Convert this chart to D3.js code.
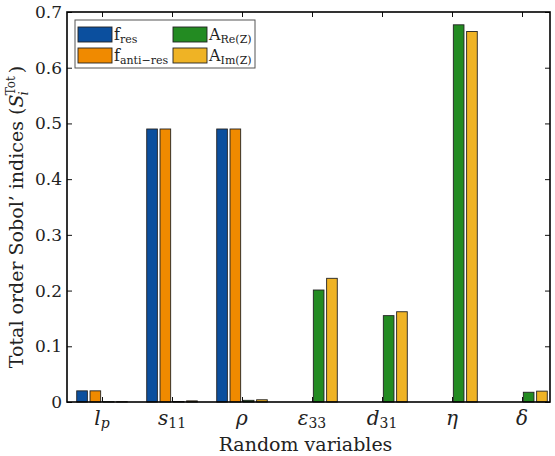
<!DOCTYPE html>
<html><head><meta charset="utf-8">
<script src="https://cdn.jsdelivr.net/npm/d3@7"></script>
<style>body{margin:0;background:#fff} svg{display:block}</style>
</head><body>
<svg id="c" width="555" height="456"></svg>
<script>
const FONT = "DejaVu Serif";
// ---- data ----
const categories = ["lp","s11","rho","eps33","d31","eta","delta"];
const fRes  = [0.020, 0.490, 0.490, 0, 0, 0, 0];
const fAnti = [0.020, 0.490, 0.490, 0, 0, 0, 0];
const aRe   = [0.0005, 0.001, 0.003, 0.201, 0.155, 0.677, 0.0175];
const aIm   = [0.0005, 0.002, 0.004, 0.222, 0.162, 0.665, 0.0195];
const yTicks = [0, 0.1, 0.2, 0.3, 0.4, 0.5, 0.6, 0.7];
const yTickLabels = ["0","0.1","0.2","0.3","0.4","0.5","0.6","0.7"];
const seriesKeys = ["fres","fanti","are","aim"];
const seriesColors = ["#0b4f9e","#f08a00","#238b22","#efb325"];

const seriesVals = [fRes, fAnti, aRe, aIm];

const catLabels = {
  lp:["l","p"], s11:["s","11"], rho:["ρ",""], eps33:["ε","33"],
  d31:["d","31"], eta:["η",""], delta:["δ",""]
};

const svg = d3.select("#c").attr("font-family", FONT).attr("fill", "#222");
const L=67, R=550, T=12, B=402;
const x = d3.scaleLinear().domain([0.5, 7.4]).range([L, R]);
const y = d3.scaleLinear().domain([0, 0.7]).range([B, T]);
const sub = d3.scaleBand().domain(seriesKeys).range([-0.38, 0.38]).paddingInner(0.2).paddingOuter(0.1);
const bwPx = x(sub.bandwidth()) - x(0);

seriesKeys.forEach((k, si) => {
  svg.append("g").selectAll("rect").data(seriesVals[si]).join("rect")
    .attr("x", (d, i) => x(i + 1 + sub(k)))
    .attr("width", bwPx)
    .attr("y", d => y(d))
    .attr("height", d => Math.max(0, y(0) - y(d)))
    .attr("fill", seriesColors[si])
    .attr("stroke", d => d > 0 ? "#222" : "none")
    .attr("stroke-width", 0.9);
});

const catPos = categories.map((c, i) => i + 1);
svg.append("g").attr("transform", `translate(0,${B})`)
  .call(d3.axisBottom(x).tickValues(catPos).tickSize(-5).tickFormat(""));
svg.append("g").attr("transform", `translate(0,${T})`)
  .call(d3.axisTop(x).tickValues(catPos).tickSize(-5).tickFormat(""));
const yl = svg.append("g").attr("transform", `translate(${L},0)`)
  .call(d3.axisLeft(y).tickValues(yTicks).tickSize(-5).tickPadding(5)
    .tickFormat((d, i) => yTickLabels[i]));
svg.append("g").attr("transform", `translate(${R},0)`)
  .call(d3.axisRight(y).tickValues(yTicks).tickSize(-5).tickFormat(""));
svg.selectAll(".domain").remove();
svg.selectAll("g").attr("font-family", FONT);
svg.selectAll(".tick line").attr("stroke", "#111").attr("stroke-width", 1);
yl.selectAll("text").attr("font-size", 17).attr("fill","#222");

svg.append("rect").attr("x", L).attr("y", T).attr("width", R - L).attr("height", B - T)
  .attr("fill", "none").attr("stroke", "#000").attr("stroke-width", 1.6);

categories.forEach((c, i) => {
  const t = svg.append("text").attr("x", x(i + 1)).attr("y", 425)
    .attr("text-anchor", "middle").attr("font-size", 20).attr("font-family", FONT);
  const [m, s] = catLabels[c];
  t.append("tspan").text(m).attr("font-style", "italic");
  if (s) t.append("tspan").text(s).attr("dy", 3).attr("font-size", 14)
    .attr("font-style", c === "lp" ? "italic" : "normal");
});

svg.append("text").attr("x", (L + R) / 2 - 3).attr("y", 451).attr("text-anchor", "middle")
  .attr("font-size", 19).attr("font-family", FONT).text("Random variables");

const ylab = svg.append("text").attr("transform", `translate(23,${(T + B) / 2 + 10}) rotate(-90)`)
  .attr("text-anchor", "middle").attr("font-size", 19).attr("font-family", FONT);
ylab.append("tspan").text("Total order Sobol’ indices (");
ylab.append("tspan").text("S").attr("font-style", "italic");
ylab.append("tspan").text("i").attr("font-style", "italic").attr("font-size", 13).attr("dy", 5).attr("dx", -1);
ylab.append("tspan").text("Tot").attr("font-size", 12).attr("dy", -13).attr("dx", -4);
ylab.append("tspan").text(")").attr("dy", 8).attr("dx", 3);

const lg = svg.append("g").attr("font-family", FONT);
lg.append("rect").attr("x", 75).attr("y", 20).attr("width", 180).attr("height", 48)
  .attr("fill", "#fff").attr("stroke", "#555").attr("stroke-width", 1);
const legItems = [
  {k:0, x:78, y:27, m:"f", s:"res"},
  {k:1, x:78, y:48, m:"f", s:"anti−res"},
  {k:2, x:173, y:27, m:"A", s:"Re(Z)"},
  {k:3, x:173, y:48, m:"A", s:"Im(Z)"}
];
legItems.forEach(it => {
  lg.append("rect").attr("x", it.x).attr("y", it.y).attr("width", 34).attr("height", 15)
    .attr("fill", seriesColors[it.k]).attr("stroke", "#222").attr("stroke-width", 0.9);
  const t = lg.append("text").attr("x", it.x + 36).attr("y", it.y + 13).attr("font-size", 16);
  t.append("tspan").text(it.m);
  t.append("tspan").text(it.s).attr("dy", 3).attr("font-size", 11);
});
</script>
</body></html>
